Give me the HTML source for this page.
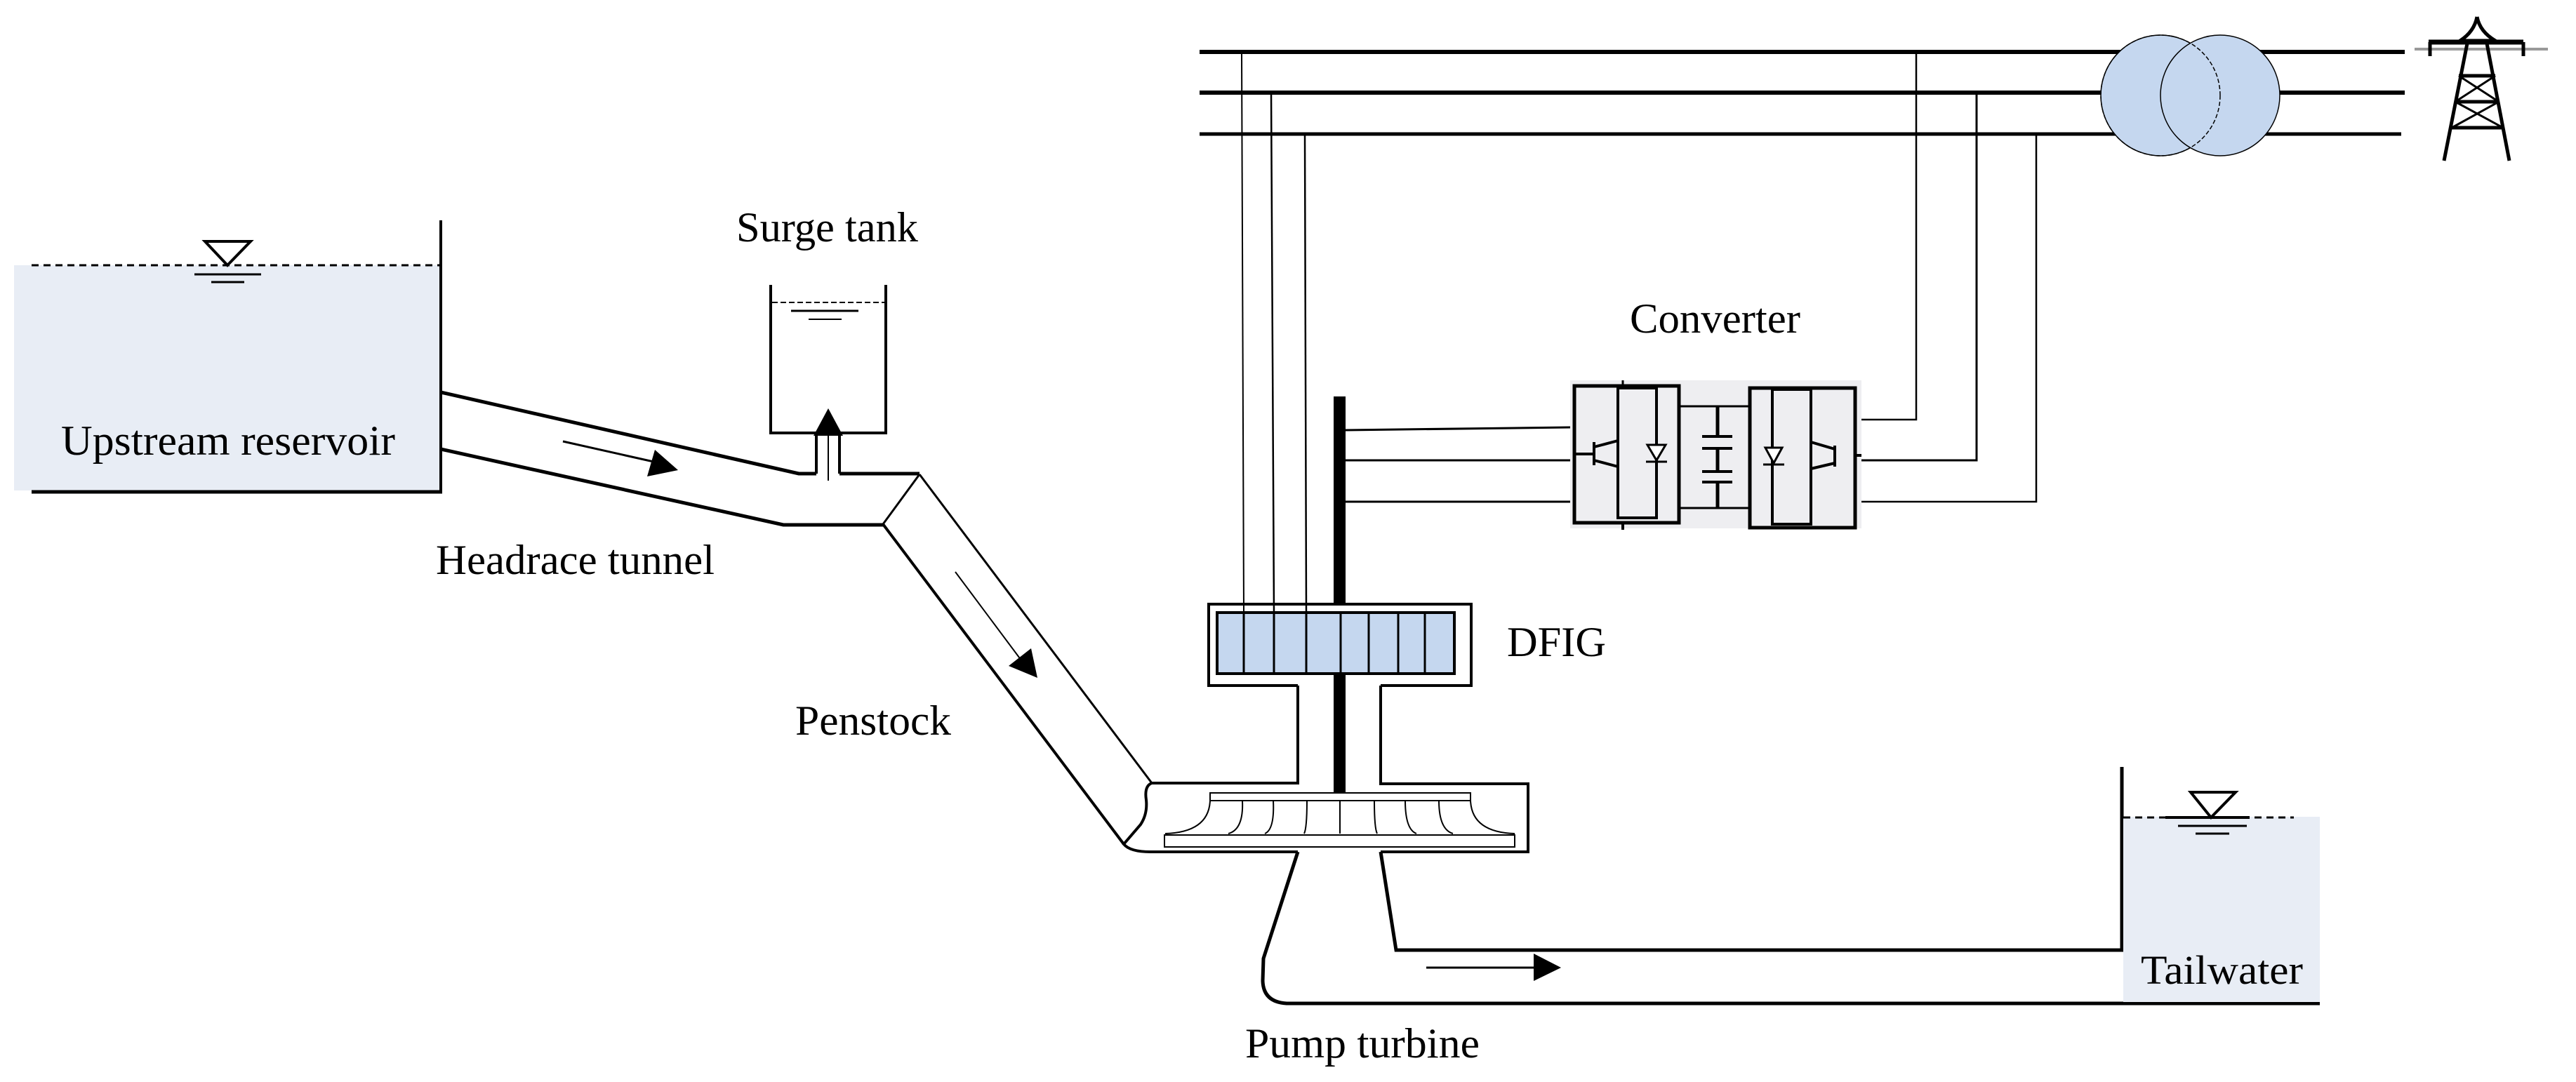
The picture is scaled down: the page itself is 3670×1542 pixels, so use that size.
<!DOCTYPE html>
<html><head><meta charset="utf-8"><style>html,body{margin:0;padding:0;background:#fff}svg{display:block}</style></head>
<body>
<svg width="3670" height="1542" viewBox="0 0 3670 1542" xmlns="http://www.w3.org/2000/svg" font-family="'Liberation Serif', serif" fill="none" stroke="#000">
<!-- Upstream reservoir -->
<rect x="20" y="378" width="608" height="321" fill="#e8edf5" stroke="none"/>
<line x1="45" y1="378" x2="628" y2="378" stroke-width="3" stroke-dasharray="10,7"/>
<line x1="628" y1="314" x2="628" y2="701" stroke-width="4"/>
<line x1="45" y1="701" x2="630" y2="701" stroke-width="5"/>
<polygon points="292,344 357,344 324,378" fill="#fff" stroke-width="4"/>
<line x1="277" y1="391" x2="372" y2="391" stroke-width="3"/>
<line x1="301" y1="402" x2="348" y2="402" stroke-width="3"/>
<text x="87" y="648" font-size="60" fill="#000" stroke="none" textLength="476" lengthAdjust="spacingAndGlyphs">Upstream reservoir</text>
<!-- Headrace tunnel -->
<polyline points="628,559 1138,675 1163,675" stroke-width="5"/>
<polyline points="628,640 1116,748 1259,748" stroke-width="5"/>
<line x1="1196" y1="675" x2="1310" y2="675" stroke-width="5"/>
<line x1="802" y1="629" x2="940" y2="660" stroke-width="3"/>
<polygon points="966,670 922,679 933,641" fill="#000" stroke="none"/>
<text x="621" y="818" font-size="60" fill="#000" stroke="none" textLength="397" lengthAdjust="spacingAndGlyphs">Headrace tunnel</text>
<!-- Surge tank -->
<polyline points="1098,406 1098,617 1262,617 1262,406" stroke-width="4"/>
<line x1="1100" y1="431" x2="1260" y2="431" stroke-width="2" stroke-dasharray="8,4"/>
<line x1="1127" y1="443" x2="1223" y2="443" stroke-width="3"/>
<line x1="1152" y1="455" x2="1199" y2="455" stroke-width="2"/>
<line x1="1163" y1="617" x2="1163" y2="675" stroke-width="4"/>
<line x1="1196" y1="617" x2="1196" y2="675" stroke-width="4"/>
<line x1="1180" y1="617" x2="1180" y2="685" stroke-width="2"/>
<polygon points="1180,582 1159,621 1201,621" fill="#000" stroke="none"/>
<text x="1049" y="344" font-size="60" fill="#000" stroke="none" textLength="259" lengthAdjust="spacingAndGlyphs">Surge tank</text>
<!-- Penstock -->
<line x1="1310" y1="676" x2="1641" y2="1116" stroke-width="3"/>
<line x1="1258" y1="747" x2="1601" y2="1203" stroke-width="4"/>
<line x1="1258" y1="747" x2="1310" y2="676" stroke-width="3"/>
<line x1="1361" y1="815" x2="1458" y2="945" stroke-width="2"/>
<polygon points="1478,966 1437,949 1469,924" fill="#000" stroke="none"/>
<text x="1133" y="1047" font-size="60" fill="#000" stroke="none" textLength="222" lengthAdjust="spacingAndGlyphs">Penstock</text>
<!-- Turbine housing -->
<path d="M1641,1116 L1849,1116 L1849,977 M1967,977 L1967,1117 L2177,1117 L2177,1214 L1967,1214 M1849,1214 L1639,1214 Q1610,1214 1601,1203 L1625,1175 Q1635,1160 1633,1140 Q1630,1120 1641,1116" stroke-width="4"/>
<rect x="1724" y="1130" width="371" height="11" stroke-width="2" fill="#fff"/>
<rect x="1659" y="1190" width="499" height="17" stroke-width="2" fill="#fff"/>
<path d="M1724,1141 Q1722,1186 1660,1188 M2095,1141 Q2097,1186 2158,1188 M1770,1141 Q1772,1182 1750,1188 M1814,1141 Q1816,1182 1802,1188 M1862,1141 Q1862,1180 1858,1188 M1909,1141 L1909,1188 M1958,1141 Q1958,1180 1962,1188 M2002,1141 Q2002,1182 2018,1188 M2050,1141 Q2050,1182 2070,1188" stroke-width="2"/>
<!-- Draft tube -->
<path d="M1849,1214 L1800,1366 L1799,1398 Q1800,1428 1833,1430 L3305,1430" stroke-width="5"/>
<path d="M1967,1214 L1989,1354 L3023,1354 L3023,1093" stroke-width="5"/>
<line x1="2032" y1="1379" x2="2190" y2="1379" stroke-width="3"/>
<polygon points="2224,1379 2185,1359 2185,1398" fill="#000" stroke="none"/>
<text x="1774" y="1507" font-size="60" fill="#000" stroke="none" textLength="334" lengthAdjust="spacingAndGlyphs">Pump turbine</text>
<!-- Tailwater -->
<rect x="3025" y="1164" width="280" height="264" fill="#e8edf5" stroke="none"/>
<line x1="3025" y1="1165" x2="3268" y2="1165" stroke-width="3" stroke-dasharray="10,7"/>
<line x1="3085" y1="1165" x2="3205" y2="1165" stroke-width="4"/>
<polygon points="3121,1129 3185,1129 3150,1165" fill="#fff" stroke-width="4"/>
<line x1="3103" y1="1177" x2="3201" y2="1177" stroke-width="3"/>
<line x1="3128" y1="1188" x2="3176" y2="1188" stroke-width="3"/>
<line x1="3023" y1="1093" x2="3023" y2="1354" stroke-width="4"/>
<text x="3050" y="1402" font-size="58" fill="#000" stroke="none" textLength="231" lengthAdjust="spacingAndGlyphs">Tailwater</text>
<!-- DFIG -->
<path d="M1849,977 H1722 V861 H2096 V977 H1967" stroke-width="4"/>
<rect x="1734" y="873" width="338" height="87" stroke-width="4" fill="#c5d7ef"/>
<path d="M1772,873V960 M1815,873V960 M1861,873V960 M1910,873V960 M1950,873V960 M1992,873V960 M2030,873V960" stroke-width="3"/>
<rect x="1900" y="960" width="17" height="170" fill="#000" stroke="none"/>
<rect x="1900" y="565" width="17" height="296" fill="#000" stroke="none"/>
<text x="2147" y="935" font-size="60" fill="#000" stroke="none" textLength="141" lengthAdjust="spacingAndGlyphs">DFIG</text>
<!-- Stator verticals -->
<line x1="1769" y1="74" x2="1772" y2="873" stroke-width="2"/>
<line x1="1811" y1="132" x2="1815" y2="873" stroke-width="2.5"/>
<line x1="1859" y1="191" x2="1861" y2="873" stroke-width="2.5"/>
<!-- Buses -->
<line x1="1709" y1="74" x2="3426" y2="74" stroke-width="6"/>
<line x1="1709" y1="132" x2="3426" y2="132" stroke-width="6"/>
<line x1="1709" y1="191" x2="3421" y2="191" stroke-width="5"/>
<!-- Rotor to converter -->
<line x1="1917" y1="613" x2="2237" y2="609" stroke-width="3"/>
<line x1="1917" y1="656" x2="2237" y2="656" stroke-width="3"/>
<line x1="1917" y1="715" x2="2237" y2="715" stroke-width="3"/>
<!-- Converter to buses -->
<polyline points="2652,598 2730,598 2730,74" stroke-width="2.5"/>
<polyline points="2651,656 2816,656 2816,132" stroke-width="3"/>
<polyline points="2651,715 2901,715 2901,191" stroke-width="2.5"/>
<!-- Converter -->
<rect x="2237" y="542" width="415" height="211" fill="#eeeef1" stroke="none"/>
<rect x="2243" y="550" width="149" height="195" stroke-width="5"/>
<rect x="2305" y="553" width="55" height="185" stroke-width="4"/>
<line x1="2312" y1="542" x2="2312" y2="553" stroke-width="3"/>
<line x1="2312" y1="745" x2="2312" y2="755" stroke-width="4"/>
<path d="M2243,647 H2271 M2271,630 V663 M2271,637 L2305,628 M2271,656 L2305,665" stroke-width="4"/>
<polygon points="2347,634 2373,634 2360,656" fill="#fff" stroke-width="3"/>
<line x1="2345" y1="658" x2="2375" y2="658" stroke-width="3"/>
<line x1="2392" y1="579" x2="2491" y2="579" stroke-width="3"/>
<line x1="2392" y1="724" x2="2491" y2="724" stroke-width="3"/>
<path d="M2447,580 V622 M2447,639 V672 M2447,687 V725" stroke-width="5"/>
<path d="M2425,622 H2468 M2425,639 H2468 M2425,672 H2468 M2425,687 H2468" stroke-width="4"/>
<rect x="2493" y="553" width="150" height="199" stroke-width="5"/>
<rect x="2525" y="555" width="55" height="192" stroke-width="4"/>
<path d="M2643,649 H2652 M2614,635 V665 M2614,640 L2580,630 M2614,660 L2580,668" stroke-width="4"/>
<polygon points="2515,638 2539,638 2527,660" fill="#fff" stroke-width="3"/>
<line x1="2512" y1="662" x2="2542" y2="662" stroke-width="3"/>
<text x="2322" y="474" font-size="60" fill="#000" stroke="none" textLength="243" lengthAdjust="spacingAndGlyphs">Converter</text>
<!-- Transformer -->
<ellipse cx="3078" cy="136" rx="85" ry="86" fill="#c5d7ef" stroke-width="1.5"/>
<ellipse cx="3163" cy="136" rx="85" ry="86" fill="#c5d7ef" stroke-width="1.5"/>
<ellipse cx="3078" cy="136" rx="85" ry="86" stroke-width="1.5" stroke-dasharray="6,3"/>
<!-- Tower -->
<g stroke-width="5">
<path d="M3529,24 Q3525,45 3505,58 L3555,58 Q3533,45 3529,24"/>
<line x1="3460" y1="60" x2="3595" y2="60" stroke-width="7"/>
<line x1="3440" y1="70" x2="3630" y2="70" stroke="#999" stroke-width="4"/>
<line x1="3462" y1="60" x2="3462" y2="80"/>
<line x1="3595" y1="60" x2="3595" y2="80"/>
<line x1="3515" y1="62" x2="3482" y2="229"/>
<line x1="3543" y1="62" x2="3575" y2="229"/>
<line x1="3503" y1="108" x2="3555" y2="108"/>
<line x1="3498" y1="145" x2="3560" y2="145"/>
<line x1="3493" y1="182" x2="3566" y2="182"/>
<path d="M3503,108 L3560,145 M3555,108 L3498,145 M3498,145 L3566,182 M3560,145 L3493,182" stroke-width="3"/>
</g>
</svg>
</body></html>
